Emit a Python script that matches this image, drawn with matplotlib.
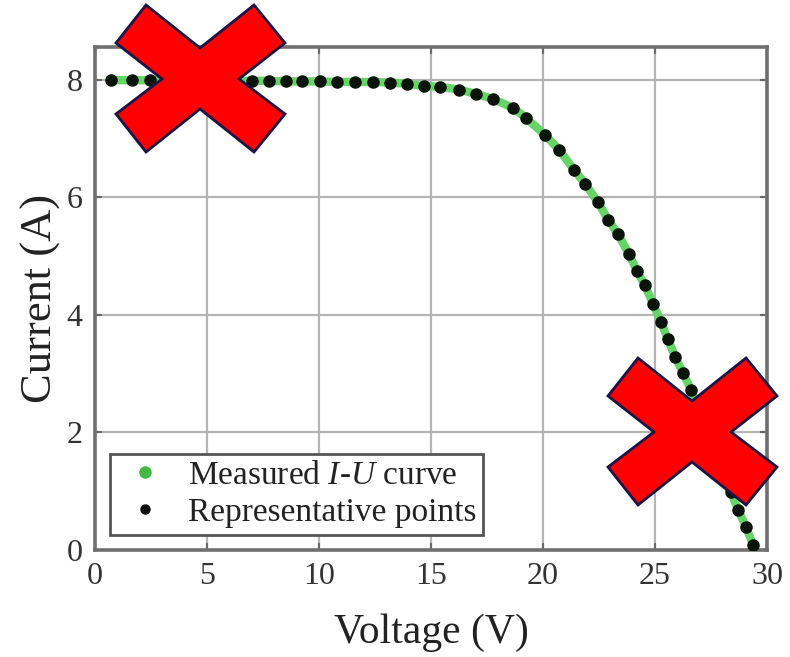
import matplotlib
matplotlib.use('Agg')
import matplotlib.pyplot as plt
from matplotlib.lines import Line2D
from matplotlib.patches import Polygon

# Representative points
voltage = [0.71, 1.65, 2.46, 3.21, 3.97, 4.73, 5.49, 6.25, 7.01, 7.77,
           8.53, 9.24, 10.04, 10.80, 11.61, 12.41, 13.17, 13.95, 14.69, 15.40,
           16.25, 17.01, 17.77, 18.66, 19.24, 20.09, 20.71, 21.38, 21.88, 22.46,
           22.90, 23.35, 23.84, 24.20, 24.55, 24.91, 25.27, 25.58, 25.89, 26.25,
           26.61, 26.92, 27.23, 27.50, 27.81, 28.13, 28.39, 28.71, 29.06, 29.38]
current = [7.99, 7.99, 7.99, 7.99, 7.99, 7.99, 7.99, 7.98, 7.98, 7.98,
           7.97, 7.97, 7.97, 7.96, 7.96, 7.96, 7.95, 7.93, 7.89, 7.88,
           7.83, 7.76, 7.67, 7.52, 7.35, 7.06, 6.81, 6.47, 6.23, 5.91,
           5.62, 5.37, 5.03, 4.74, 4.50, 4.19, 3.87, 3.58, 3.29, 3.01,
           2.72, 2.43, 2.14, 1.85, 1.56, 1.27, 0.98, 0.68, 0.39, 0.08]

x_ticks = [0, 5, 10, 15, 20, 25, 30]
y_ticks = [0, 2, 4, 6, 8]
legend_labels = ['Measured $\\it{I}$-$\\it{U}$ curve', 'Representative points']

plt.rcParams['font.family'] = ['Liberation Serif', 'DejaVu Serif']
plt.rcParams['mathtext.fontset'] = 'custom'
plt.rcParams['mathtext.it'] = 'Liberation Serif:italic'
plt.rcParams['mathtext.rm'] = 'Liberation Serif'

fig = plt.figure(figsize=(7.9, 6.57), dpi=100)
ax = fig.add_axes([0.120, 0.163, 0.851, 0.765])

green = '#66d466'
ax.plot(voltage, current, color=green, lw=6, zorder=2)
ax.plot(voltage, current, ls='none', marker='o', ms=8, color='#0a140a', zorder=3)

ax.set_xlim(0, 30)
ax.set_ylim(0, 8.55)
ax.set_xticks(x_ticks)
ax.set_yticks(y_ticks)
ax.grid(True, color='#b4b4b4', lw=1.6)
ax.set_axisbelow(True)
for sp in ax.spines.values():
  sp.set_color('#707070')
  sp.set_linewidth(2.6)
ax.tick_params(direction='in', length=5, width=1.5, colors='#6a6a6a',
               top=True, right=True, labelcolor='#333333', labelsize=23)
ax.tick_params(axis='x', pad=9)
ax.tick_params(axis='y', pad=9)
ax.set_xlabel('Voltage (V)', fontsize=30, color='#222222', labelpad=16)
ax.set_ylabel('Current (A)', fontsize=32, color='#222222', labelpad=4)

handles = [Line2D([], [], ls='none', marker='o', ms=8, color='#44b944'),
           Line2D([], [], ls='none', marker='o', ms=6.5, color='#0a0a0a')]
leg = ax.legend(handles, legend_labels, loc='lower left',
                bbox_to_anchor=(0.022, 0.03), fontsize=24, fancybox=False,
                framealpha=1, edgecolor='#555555', borderpad=0.2,
                labelspacing=0.2, handlelength=1.7, handletextpad=0.45,
                borderaxespad=0)
leg.get_frame().set_linewidth(2)
for t in leg.get_texts():
  t.set_color('#222222')

# Red cross overlays (pixel outline of one cross, centered at 0,0; y down)
cross = [(-84, -36), (-54, -74), (0, -31), (54, -74), (85, -36), (39, 0),
         (85, 35), (54, 73), (0, 30), (-54, 73), (-84, 35), (-38, 0)]
W, H = 790.0, 657.0
for cx, cy in [(200, 79), (692, 432)]:
  pts = [((cx + dx) / W, 1 - (cy + dy) / H) for dx, dy in cross]
  fig.patches.append(Polygon(pts, closed=True, transform=fig.transFigure,
                             facecolor='#ff0000', edgecolor='#1c1445',
                             lw=2, zorder=10))

fig.savefig('out.png', dpi=100)
